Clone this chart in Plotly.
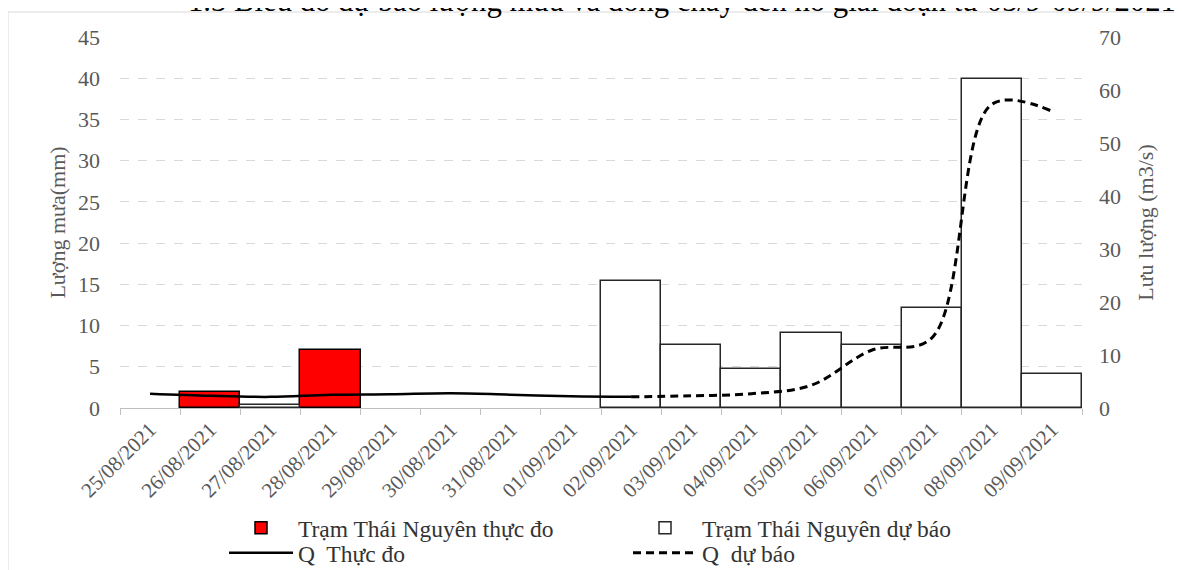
import plotly.graph_objects as go

dates = ["25/08/2021", "26/08/2021", "27/08/2021", "28/08/2021", "29/08/2021",
         "30/08/2021", "31/08/2021", "01/09/2021", "02/09/2021", "03/09/2021",
         "04/09/2021", "05/09/2021", "06/09/2021", "07/09/2021", "08/09/2021",
         "09/09/2021"]
rain_observed = [None, 1.9, None, 7.0, None, None, None, None,
                 None, None, None, None, None, None, None, None]
rain_forecast = [None, None, 0.4, None, None, None, None, None,
                 15.4, 7.6, 4.7, 9.1, 7.6, 12.1, 39.9, 4.1]
q_observed = [2.7, 2.3, 2.1, 2.5, 2.6, 2.8, 2.5, 2.2, 2.1,
              None, None, None, None, None, None, None]
q_forecast = [None, None, None, None, None, None, None, None,
              2.1, 2.3, 2.7, 4.3, 10.9, 13.2, 57.3, 56.0]

title_text = "1.3 Biểu đồ dự báo lượng mưa và dòng chảy đến hồ giai đoạn từ 05/9-09/9/2021"
SERIF = "Liberation Serif"
GRAY = "#595959"
LEG = "#333333"

fig = go.Figure()
fig.add_trace(go.Bar(x=dates, y=rain_observed, name="Trạm Thái Nguyên thực đo",
                     width=1, legend="legend",
                     marker=dict(color="#ff0000", line=dict(color="#000000", width=1.5))))
fig.add_trace(go.Bar(x=dates, y=rain_forecast, name="Trạm Thái Nguyên dự báo",
                     width=1, legend="legend",
                     marker=dict(color="#ffffff", line=dict(color="#262626", width=1.5))))
fig.add_trace(go.Scatter(x=dates, y=q_observed, name="Q  Thực đo", yaxis="y2",
                         legend="legend2", mode="lines",
                         line=dict(color="#000000", width=2.5, shape="spline"),
                         connectgaps=False))
fig.add_trace(go.Scatter(x=dates, y=q_forecast, name="Q  dự báo", yaxis="y2",
                         legend="legend2", mode="lines",
                         line=dict(color="#000000", width=3, shape="spline", dash="8px,5px"),
                         connectgaps=False))

# the page body has an 8px margin, so the figure starts at (8, 8) on screen
OFF = 8
W, H = 1182 - OFF, 570 - OFF
L = 120 - OFF
T = 37 - OFF
R = W - (1082 - OFF)
B = H - (408 - OFF)
pw = W - L - R
ph = H - T - B


def px_x(p):
    return (p - OFF - L) / pw


def px_y(p):
    return (H - B - (p - OFF)) / ph


leg_common = dict(orientation="h", xanchor="left", yanchor="middle",
                  entrywidth=325, entrywidthmode="pixels", itemwidth=64,
                  font=dict(family=SERIF, size=23.5, color=LEG),
                  bgcolor="rgba(0,0,0,0)", borderwidth=0)

fig.update_layout(
    width=W, height=H,
    margin=dict(l=L, r=R, t=T, b=B, autoexpand=False),
    paper_bgcolor="white", plot_bgcolor="white",
    barmode="overlay", bargap=0,
    font=dict(family=SERIF, color=GRAY, size=20),
    showlegend=True,
    legend=dict(x=px_x(224), y=px_y(528), **leg_common),
    legend2=dict(x=px_x(224), y=px_y(553), **leg_common),
    xaxis=dict(type="category", range=[-0.5, 15.5], tickangle=-45, automargin=False,
               tickson="boundaries", ticks="outside", ticklen=6, tickcolor="#bfbfbf",
               showline=True, linecolor="#bfbfbf", linewidth=1, showgrid=False,
               tickfont=dict(family=SERIF, size=21, color=GRAY)),
    yaxis=dict(range=[0, 45], dtick=5, showgrid=True, gridcolor="#d9d9d9", griddash="dash",
               gridwidth=1, zeroline=False, showline=False, ticks="", automargin=False,
               ticklabelstandoff=19,
               title=dict(text="Lượng mưa(mm)", font=dict(family=SERIF, size=22, color=GRAY),
                          standoff=6),
               tickfont=dict(family=SERIF, size=22, color=GRAY)),
    yaxis2=dict(range=[0, 70], dtick=10, overlaying="y", side="right", showgrid=False,
                zeroline=False, showline=False, ticks="", ticklabelstandoff=16,
                automargin=False,
                title=dict(text="Lưu lượng (m3/s)", font=dict(family=SERIF, size=22, color=GRAY),
                           standoff=17),
                tickfont=dict(family=SERIF, size=22, color=GRAY)),
)

fig.add_shape(type="rect", xref="paper", yref="paper",
              x0=px_x(8), x1=px_x(1195), y0=px_y(590), y1=px_y(12),
              line=dict(color="#d9d9d9", width=1), fillcolor="rgba(0,0,0,0)", layer="below")

fig.add_annotation(text=title_text, xref="paper", yref="paper",
                   x=px_x(186), y=px_y(20), xanchor="left", yanchor="bottom",
                   showarrow=False, font=dict(family=SERIF, size=30.7, color="#000000"))

fig.write_html("out.html")
